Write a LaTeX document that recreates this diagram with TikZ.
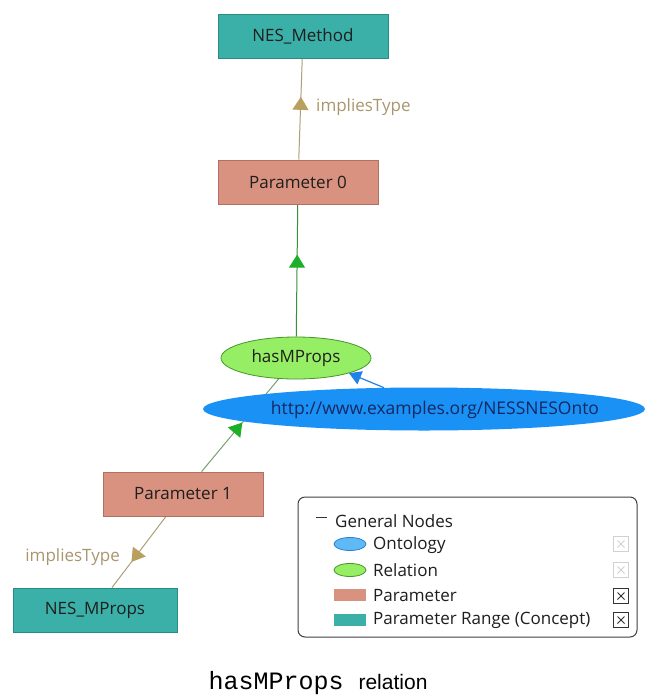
\documentclass[tikz,border=0pt]{standalone}
\usepackage{fontspec}
\setmainfont{Open Sans}
\newfontfamily\capmono{Liberation Mono}
\newfontfamily\capsans{Liberation Sans}
\usetikzlibrary{shapes.geometric,arrows.meta,decorations.markings,backgrounds}
\definecolor{teal1}{RGB}{58,176,168}
\definecolor{tealb}{RGB}{40,140,132}
\definecolor{salmon1}{RGB}{217,146,128}
\definecolor{salmonb}{RGB}{178,112,98}
\definecolor{relgreen}{RGB}{150,238,100}
\definecolor{relgreenb}{RGB}{70,150,40}
\definecolor{ontoblue}{RGB}{25,145,245}
\definecolor{ontoicon}{RGB}{95,185,245}
\definecolor{ontoiconb}{RGB}{40,130,210}
\definecolor{tan1}{RGB}{185,160,95}
\definecolor{tanline}{RGB}{175,158,120}
\definecolor{tanlabel}{RGB}{170,150,110}
\definecolor{arrgreen}{RGB}{30,175,40}
\definecolor{linegreen}{RGB}{60,140,60}
\definecolor{linegreen2}{RGB}{120,160,110}
\definecolor{arrblue}{RGB}{30,130,230}
\definecolor{nodetext}{RGB}{30,30,30}
\definecolor{ontotext}{RGB}{20,40,100}
\tikzset{
  lbl/.style={font=\fontsize{17}{20}\selectfont},
  rangebox/.style={rectangle, fill=teal1, draw=tealb, line width=0.8pt,
    minimum width=170pt, minimum height=44pt, text=nodetext, lbl},
  parambox/.style={rectangle, fill=salmon1, draw=salmonb, line width=0.8pt,
    minimum width=160pt, minimum height=44pt, text=nodetext, lbl},
  relnode/.style={ellipse, fill=relgreen, draw=relgreenb, line width=0.8pt,
    minimum width=150pt, minimum height=42pt, inner sep=0pt, text=nodetext, lbl},
  ontonode/.style={ellipse, fill=ontoblue, minimum width=442pt, minimum height=43pt,
    inner sep=0pt},
  ontolabel/.style={inner sep=0pt, text=ontotext, font=\fontsize{17.5}{20}\selectfont},
  midtip/.style 2 args={postaction={decorate}, decoration={markings,
    mark=at position #1 with {\arrow[#2]{Triangle[length=13pt,width=16pt]}}}},
  tanedge/.style={draw=tanline, line width=1pt},
  greenedge/.style={draw=linegreen, line width=1pt},
  greenedgeb/.style={draw=linegreen2, line width=1pt},
  blueedge/.style={draw=arrblue, line width=1.2pt, -{Triangle[length=12pt,width=14pt]}},
  edgelabel/.style={text=tanlabel, lbl, inner sep=0pt},
  legendbox/.style={rectangle, rounded corners=7pt, draw=black!75, line width=1pt,
    fill=white, minimum width=339pt, minimum height=140pt},
  legtext/.style={anchor=west, inner sep=0pt, text=nodetext, lbl},
  iconell/.style={ellipse, minimum width=32pt, minimum height=13pt, inner sep=0pt, line width=0.8pt},
  iconrect/.style={rectangle, minimum width=32pt, minimum height=12pt, inner sep=0pt},
  chk/.style={rectangle, minimum size=15pt, inner sep=0pt, draw=#1, line width=0.8pt,
    path picture={\draw[#1, line width=0.8pt]
      ([shift={(4pt,4pt)}]path picture bounding box.south west) --
      ([shift={(-4pt,-4pt)}]path picture bounding box.north east)
      ([shift={(4pt,-4pt)}]path picture bounding box.north west) --
      ([shift={(-4pt,4pt)}]path picture bounding box.south east);}},
}
\begin{document}
\begin{tikzpicture}[x=1pt,y=-1pt]
\useasboundingbox (0,0) rectangle (650,697);
\begin{scope}[on background layer]
  \fill[white] (0,0) rectangle (650,697);
\end{scope}

% nodes
\node[rangebox] (nm) at (303,36) {NES\_Method};
\node[parambox] (p0) at (298,182) {Parameter 0};
\node[relnode] (hasM) at (296,358) {hasMProps};
\node[ontonode] (onto) at (424,409) {};
\node[ontolabel] (ontotxt) at (435,410) {http://www.examples.org/NESSNESOnto};
\node[parambox] (p1) at (183,494) {Parameter 1};
\node[rangebox, minimum width=164pt] (nmp) at (95,610) {NES\_MProps};

% edges (behind nodes)
\begin{scope}[on background layer]
  \draw[tanedge, midtip={0.62}{tan1}] (p0) -- (nm);
  \draw[greenedge, midtip={0.62}{arrgreen}] (hasM) -- (p0);
  \draw[greenedgeb, midtip={0.53}{arrgreen}] (p1) -- (hasM);
  \draw[tanedge, midtip={0.64}{tan1}] (p1) -- (nmp);
\end{scope}
\draw[blueedge] (onto.152) -- (hasM.-16);

% edge labels
\node[edgelabel, anchor=west] (lt1) at (316,107) {impliesType};
\node[edgelabel, anchor=east] (lt2) at (120,557) {impliesType};

% legend
\node[legendbox] (leg) at (467.5,567) {};
\draw[line width=1pt, black!80] (316,517) -- (327,517);
\node[legtext] (lg0) at (335,521) {General Nodes};
\node[iconell, fill=ontoicon, draw=ontoiconb] (ic1) at (350,544) {};
\node[legtext] (lg1) at (373,545) {Ontology};
\node[iconell, fill=relgreen, draw=relgreenb] (ic2) at (350,570) {};
\node[legtext] (lg2) at (373,570) {Relation};
\node[iconrect, fill=salmon1] (ic3) at (350,595) {};
\node[legtext] (lg3) at (373,596) {Parameter};
\node[iconrect, fill=teal1] (ic4) at (350,620) {};
\node[legtext] (lg4) at (373,620) {Parameter Range (Concept)};
\node[chk=black!18] (c1) at (621,544) {};
\node[chk=black!18] (c2) at (621,570) {};
\node[chk=black!80] (c3) at (621,596) {};
\node[chk=black!80] (c4) at (621,620) {};

% caption
\node (cap) at (318,683) {{\capmono\fontsize{25}{28}\selectfont hasMProps }{\capsans\fontsize{21}{24}\selectfont relation}};
\end{tikzpicture}
\end{document}
